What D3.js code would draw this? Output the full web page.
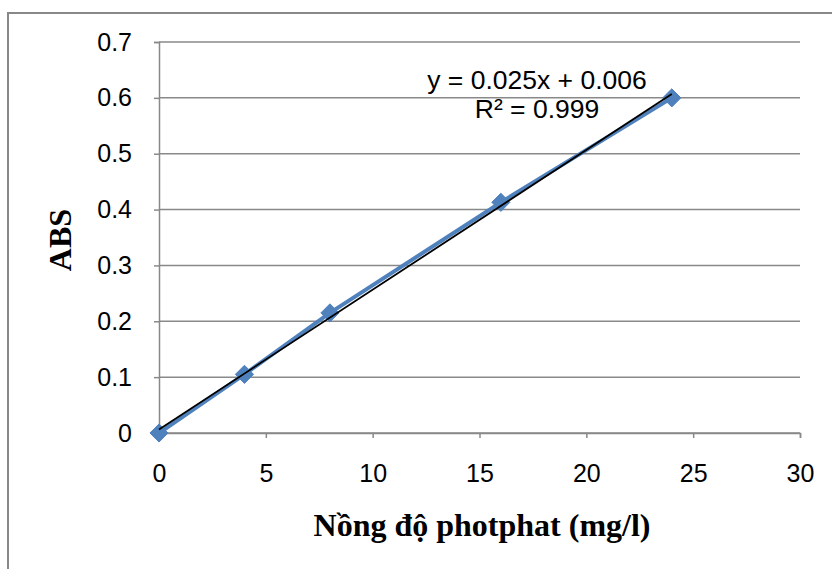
<!DOCTYPE html>
<html>
<head>
<meta charset="utf-8">
<script src="https://cdn.jsdelivr.net/npm/d3@7"></script>
<style>
  body { margin: 0; background: #fff; }
  svg { display: block; }
</style>
</head>
<body>
<div id="chart"></div>
<script>
// data
var concentrations = [0, 4, 8, 16, 24];
var absValues = [0, 0.105, 0.215, 0.413, 0.6];
var xTicks = [0, 5, 10, 15, 20, 25, 30];
var yTicks = [0, 0.1, 0.2, 0.3, 0.4, 0.5, 0.6, 0.7];
var equationText = "y = 0.025x + 0.006";
var r2Text = "R\u00B2 = 0.999";

var width = 832;
var height = 569;

var svg = d3.select("#chart")
    .append("svg")
    .attr("width", width)
    .attr("height", height);

// outer chart frame
svg.append("rect")
    .attr("x", 8)
    .attr("y", 13)
    .attr("width", 840)
    .attr("height", 580)
    .attr("fill", "none")
    .attr("stroke", "#888")
    .attr("stroke-width", 2);

var x = d3.scaleLinear().domain([0, 30]).range([159, 800]);
var y = d3.scaleLinear().domain([0, 0.7]).range([433, 42]);

// gridlines
svg.selectAll("line.grid")
    .data(yTicks)
    .enter()
    .append("line")
    .attr("class", "grid")
    .attr("x1", x(0))
    .attr("x2", x(30))
    .attr("y1", d => y(d))
    .attr("y2", d => y(d))
    .attr("stroke", "#898989")
    .attr("stroke-width", 1.5);

// axes
var xAxis = svg.append("g")
    .attr("transform", "translate(0," + y(0) + ")")
    .call(d3.axisBottom(x).tickValues(xTicks).tickSize(5).tickPadding(26).tickFormat(d3.format("d")));

var yAxis = svg.append("g")
    .attr("transform", "translate(" + x(0) + ",0)")
    .call(d3.axisLeft(y).tickValues(yTicks).tickSize(5).tickPadding(22).tickFormat(d => d === 0 ? "0" : d3.format(".1f")(d)));

[xAxis, yAxis].forEach(function(g) {
    g.select(".domain").attr("stroke", "#898989").attr("stroke-width", 1.5);
    g.selectAll(".tick line").attr("stroke", "#898989").attr("stroke-width", 1.5);
    g.selectAll("text")
        .attr("fill", "#000")
        .style("font-family", "'Liberation Sans', Arial, sans-serif")
        .style("font-size", "25px");
});

// series line
var line = d3.line()
    .x((d, i) => x(concentrations[i]))
    .y(d => y(d));

svg.append("path")
    .datum(absValues)
    .attr("d", line)
    .attr("fill", "none")
    .attr("stroke", "#4F81BD")
    .attr("stroke-width", 4)
    .attr("stroke-linejoin", "round");

// markers
var diamond = d3.symbol().type(d3.symbolDiamond2).size(210);
svg.selectAll("path.marker")
    .data(absValues)
    .enter()
    .append("path")
    .attr("class", "marker")
    .attr("d", diamond)
    .attr("transform", (d, i) => "translate(" + x(concentrations[i]) + "," + y(d) + ")")
    .attr("fill", "#4F81BD")
    .attr("stroke", "#4F81BD")
    .attr("stroke-width", 1);

// linear trendline (least squares)
var xm = d3.mean(concentrations);
var ym = d3.mean(absValues);
var sxy = d3.sum(concentrations, (c, i) => (c - xm) * (absValues[i] - ym));
var sxx = d3.sum(concentrations, c => (c - xm) * (c - xm));
var slope = sxy / sxx;
var intercept = ym - slope * xm;
var xMin = d3.min(concentrations), xMax = d3.max(concentrations);

svg.append("line")
    .attr("x1", x(xMin))
    .attr("y1", y(intercept + slope * xMin))
    .attr("x2", x(xMax))
    .attr("y2", y(intercept + slope * xMax))
    .attr("stroke", "#000")
    .attr("stroke-width", 1.8);

// trendline label
var label = svg.append("g")
    .style("font-family", "'Liberation Sans', Arial, sans-serif")
    .style("font-size", "26.5px")
    .attr("text-anchor", "middle");
label.append("text").attr("x", 537).attr("y", 89).text(equationText);
label.append("text").attr("x", 537).attr("y", 118).text(r2Text);

// axis titles
svg.append("text")
    .attr("x", 482)
    .attr("y", 536)
    .attr("text-anchor", "middle")
    .style("font-family", "'Liberation Serif', 'Times New Roman', serif")
    .style("font-weight", "bold")
    .style("font-size", "32px")
    .text("Nồng độ photphat (mg/l)");

svg.append("text")
    .attr("transform", "translate(71,240) rotate(-90)")
    .attr("text-anchor", "middle")
    .style("font-family", "'Liberation Serif', 'Times New Roman', serif")
    .style("font-weight", "bold")
    .style("font-size", "32px")
    .text("ABS");
</script>
</body>
</html>
